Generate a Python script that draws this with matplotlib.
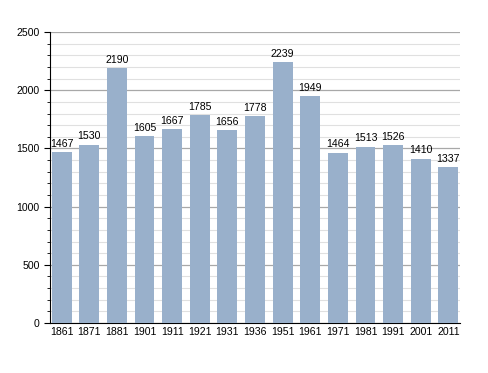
import matplotlib
matplotlib.use('Agg')
from matplotlib import pyplot as plt
from matplotlib.ticker import MultipleLocator

years = ['1861', '1871', '1881', '1901', '1911', '1921', '1931', '1936',
         '1951', '1961', '1971', '1981', '1991', '2001', '2011']
population = [1467, 1530, 2190, 1605, 1667, 1785, 1656, 1778,
              2239, 1949, 1464, 1513, 1526, 1410, 1337]

plt.rcParams['font.family'] = ['Liberation Sans', 'DejaVu Sans']

fig = plt.figure(figsize=(4.88, 3.73), dpi=100)
ax = fig.add_axes([0.1025, 0.134, 0.84, 0.78])

x = range(len(years))
ax.bar(x, population, width=0.72, color='#99b0cb', zorder=3)
for xi, v in zip(x, population):
    ax.text(xi, v + 30, str(v), ha='center', va='bottom', fontsize=7.6, zorder=4)

ax.set_xlim(-0.42, len(years) - 0.58)
ax.set_ylim(0, 2500)
ax.set_xticks(list(x))
ax.set_xticklabels(years)
ax.yaxis.set_major_locator(MultipleLocator(500))
ax.yaxis.set_minor_locator(MultipleLocator(100))
ax.grid(axis='y', which='major', color='#a8a8a8', linewidth=0.9, zorder=0)
ax.grid(axis='y', which='minor', color='#e0e0e0', linewidth=0.8, zorder=0)
ax.tick_params(axis='x', length=0, labelsize=7.6, pad=3)
ax.tick_params(axis='y', which='major', length=4, labelsize=7.6)
ax.tick_params(axis='y', which='minor', length=2.5)
ax.spines['top'].set_visible(False)
ax.spines['right'].set_visible(False)

fig.savefig('out.png')
